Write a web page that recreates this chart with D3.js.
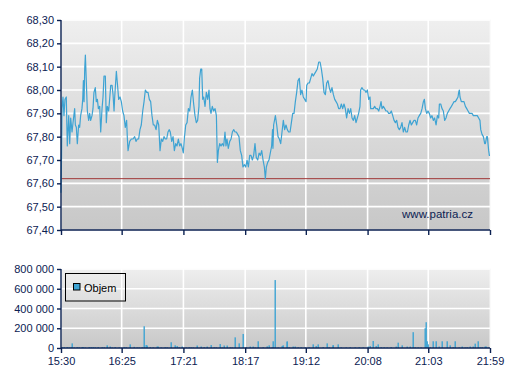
<!DOCTYPE html>
<html>
<head>
<meta charset="utf-8">
<script src="https://cdn.jsdelivr.net/npm/d3@7"></script>
<style>
  html, body { margin: 0; padding: 0; background: #ffffff; }
  svg { display: block; font-family: "Liberation Sans", Arial, sans-serif; }
</style>
</head>
<body>
<svg id="chart" width="507" height="380"></svg>
<script>
// ---------- DATA ----------
const timeLabels = ["15:30","16:25","17:21","18:17","19:12","20:08","21:03","21:59"];
const priceTicks = [67.4, 67.5, 67.6, 67.7, 67.8, 67.9, 68.0, 68.1, 68.2, 68.3];
const volumeTicks = [0, 200000, 400000, 600000, 800000];
const referencePrice = 67.62;
const watermark = "www.patria.cz";
const legendLabel = "Objem";

// minutes after 15:30
const priceTimes = [
  0,0.5,0.9,1.8,2.7,3.6,4.8,5.7,7.0,7.9,8.8,10.0,10.9,12.4,13.0,13.9,14.8,16.0,16.9,17.8,
  19.0,19.7,20.3,20.9,21.5,22.1,23.0,23.9,25.1,26.0,26.9,28.1,29.0,29.9,31.1,32.0,33.0,33.9,35.1,36.0,
  37.2,38.1,39.0,40.2,41.1,42.0,43.2,44.1,45.1,46.3,47.2,48.1,48.7,50.2,51.1,52.3,53.5,54.7,55.9,57.1,
  58.3,59.5,60.2,60.8,62.3,63.8,65.3,66.8,68.0,69.2,70.4,71.6,72.8,74.1,75.3,76.5,77.7,78.9,80.1,81.3,
  82.5,83.7,84.9,86.2,87.4,88.6,89.8,91.0,92.2,93.4,94.6,95.8,97.0,98.2,99.1,100.4,101.6,102.8,104.0,105.2,
  106.4,107.6,108.8,110.0,110.9,111.8,113.1,114.3,115.5,116.7,117.9,119.1,120.3,121.5,122.7,123.9,125.1,125.7,126.7,127.6,
  128.5,129.4,130.6,131.8,133.0,134.2,135.1,136.0,137.2,138.4,139.7,140.9,141.8,142.7,143.9,145.1,146.3,147.5,148.7,149.6,
  150.5,151.7,153.0,154.2,155.4,156.6,157.8,159.0,160.2,161.4,162.6,163.8,165.0,166.3,167.5,168.7,169.9,171.1,172.3,173.5,
  174.7,175.9,177.1,178.4,179.6,180.8,182.0,183.2,184.4,185.3,186.2,187.4,188.6,189.8,191.0,191.8,192.2,192.8,194.4,195.6,
  196.8,198.0,199.2,200.4,201.6,202.8,204.0,205.2,206.4,207.7,208.9,210.1,211.3,212.5,213.7,214.9,216.1,217.3,218.5,219.7,
  221.0,222.2,222.8,224.0,225.2,226.4,227.6,228.8,230.0,231.2,232.4,233.7,234.9,236.1,237.3,238.5,239.7,240.9,242.1,243.3,
  244.5,245.7,247.0,248.2,249.4,250.6,251.8,253.0,254.2,255.4,256.6,257.8,259.0,260.3,261.5,262.7,263.9,265.1,266.3,267.5,
  268.7,269.9,271.1,271.7,272.9,274.2,275.4,276.6,277.8,279.0,280.2,280.8,282.0,283.2,284.4,285.6,286.8,288.1,289.3,290.2,
  291.1,292.3,293.5,294.7,295.9,297.1,298.3,299.5,300.8,302.0,303.2,304.4,305.6,306.8,308.0,309.2,310.4,311.6,312.8,314.1,
  315.3,316.5,317.7,318.9,320.1,321.3,322.5,323.7,324.9,326.2,327.4,328.6,329.5,330.4,331.6,332.8,334.0,335.2,336.4,337.6,
  338.8,340.1,341.3,342.5,343.1,344.3,345.5,346.7,347.9,349.1,350.3,351.5,352.7,354.0,355.2,356.4,357.6,358.8,360.0,360.6,
  361.2,361.8,363.0,364.2,365.4,366.7,367.9,369.1,370.3,371.5,372.7,373.9,375.1,376.3,377.5,378.7,379.9,380.6,381.8,383.0,
  384.2,384.8,386.0,386.6,387.8,388.4,389
];
const priceValues = [
  67.56,67.72,67.92,67.97,67.89,67.96,67.97,67.76,67.89,67.77,67.88,67.82,67.86,67.92,67.85,67.84,67.77,67.85,67.84,67.89,
  67.92,67.96,68.04,67.95,68.09,68.15,68.03,67.91,67.87,67.90,67.87,67.89,67.92,67.99,68.01,67.95,67.96,67.92,67.93,67.82,
  67.92,67.97,68.06,68.06,67.86,67.93,67.91,67.96,68.02,68.02,67.98,67.91,67.97,68.08,68.03,67.96,67.97,67.95,67.91,67.89,
  67.84,67.87,67.79,67.74,67.78,67.79,67.79,67.80,67.78,67.79,67.79,67.83,67.85,67.91,67.95,68.00,67.99,67.99,67.96,67.95,
  67.89,67.85,67.85,67.83,67.87,67.85,67.74,67.79,67.78,67.80,67.79,67.79,67.82,67.83,67.82,67.78,67.80,67.74,67.77,67.76,
  67.79,67.76,67.77,67.75,67.73,67.79,67.85,67.86,67.92,67.91,67.97,68.00,67.94,67.89,67.86,67.87,67.93,68.05,68.09,68.09,
  67.96,67.97,67.93,67.99,67.96,68.00,67.92,67.90,67.93,67.91,67.92,67.89,67.69,67.74,67.77,67.76,67.77,67.76,67.82,67.76,
  67.79,67.75,67.78,67.79,67.82,67.83,67.82,67.82,67.81,67.80,67.74,67.72,67.67,67.68,67.67,67.70,67.67,67.72,67.72,67.70,
  67.72,67.77,67.71,67.70,67.73,67.72,67.74,67.70,67.67,67.62,67.67,67.69,67.70,67.73,67.76,67.83,67.75,67.85,67.89,67.85,
  67.80,67.79,67.77,67.82,67.87,67.83,67.85,67.83,67.82,67.82,67.86,67.90,67.90,67.95,67.99,68.04,68.05,67.98,68.00,67.97,
  67.96,67.95,68.02,68.03,68.03,68.05,68.07,68.06,68.07,68.08,68.09,68.12,68.12,68.09,68.05,67.99,67.98,68.03,68.04,68.01,
  67.99,68.01,67.98,67.96,67.95,67.94,67.92,67.92,67.94,67.92,67.94,67.92,67.88,67.92,67.90,67.92,67.88,67.87,67.89,67.86,
  67.88,67.90,67.93,68.00,68.01,68.00,68.00,67.99,68.00,67.96,67.97,67.92,67.92,67.92,67.93,67.92,67.92,67.91,67.93,67.95,
  67.92,67.93,67.92,67.91,67.91,67.90,67.90,67.91,67.89,67.87,67.86,67.87,67.84,67.83,67.84,67.86,67.82,67.84,67.82,67.82,
  67.85,67.87,67.85,67.86,67.87,67.87,67.85,67.88,67.89,67.90,67.92,67.95,67.96,67.92,67.90,67.91,67.90,67.88,67.89,67.87,
  67.88,67.85,67.89,67.88,67.94,67.94,67.92,67.91,67.87,67.88,67.90,67.91,67.92,67.93,67.94,67.95,67.95,67.96,67.97,67.99,
  68.00,67.97,67.95,67.95,67.95,67.93,67.92,67.91,67.90,67.90,67.90,67.89,67.89,67.89,67.89,67.88,67.87,67.83,67.81,67.80,
  67.77,67.77,67.80,67.80,67.74,67.72,67.72
];

// volume: minutes after 15:30 and traded volume
const volumeTimes = [
  5.1,10.3,14.2,18.7,20.2,25.7,29.3,33.8,36.9,42.0,44.4,49.0,62.6,66.5,75.3,76.8,77.7,86.8,88.3,99.7,
  103.4,104.9,110.0,123.0,127.0,132.1,136.0,144.2,148.1,150.2,158.0,161.7,165.3,171.4,174.4,179.0,186.5,188.9,192.6,194.4,
  200.7,201.6,204.7,205.3,210.7,212.2,228.8,231.0,233.4,237.9,241.5,246.4,247.0,251.5,278.7,280.2,282.6,285.7,287.8,303.8,
  305.9,309.5,314.1,316.5,319.5,329.8,330.7,331.6,333.1,337.7,340.1,343.1,345.8,349.8,352.8,357.6,363.4,370.9,373.3,375.7,
  378.5,384.5,385.4,
  1,3,7,9,12,16,22,27,31,39,46,53,57,59,69,71,73,81,83,91,
  94,96,107,113,116,118,120,130,139,141,146,153,155,168,176,183,191,197,207,215,
  218,221,225,243,254,258,262,267,270,274,290,293,296,299,321,324,326,335,355,361,
  366,368,380,382,387
];
const volumeValues = [
  10000,47000,10000,10000,9000,10000,9000,10000,9000,27000,15000,10000,37000,12000,220000,30000,25000,15000,15000,58000,
  27000,20000,15000,25000,15000,15000,30000,40000,25000,25000,108000,47000,142000,15000,15000,68000,17000,27000,68000,688000,
  20000,27000,60000,68000,15000,15000,37000,20000,37000,10000,47000,27000,27000,37000,15000,20000,71000,20000,37000,15000,
  54000,27000,15000,15000,160000,200000,261000,68000,37000,68000,68000,15000,68000,68000,27000,68000,15000,15000,15000,44000,
  68000,15000,15000,
  7000,8000,6000,9000,7000,8000,6000,9000,7000,8000,6000,7000,9000,8000,7000,6000,8000,9000,7000,6000,
  8000,7000,9000,6000,8000,7000,6000,9000,8000,7000,6000,8000,7000,9000,6000,8000,7000,6000,9000,8000,
  7000,6000,8000,9000,7000,6000,8000,7000,9000,6000,8000,7000,6000,9000,8000,7000,6000,8000,9000,7000,
  6000,8000,7000,9000,6000
];

// ---------- LAYOUT ----------
const svg = d3.select("#chart");
const L = 61, R = 490;
const pTop = 20, pBot = 230;
const vTop = 269, vBot = 348;
const navy = "#0b2152";
const lineColor = "#3ea3d3";

const toMin = s => { const [h, m] = s.split(":").map(Number); return (h * 60 + m) - (15 * 60 + 30); };
const tickMins = timeLabels.map(toMin);

const x = d3.scaleLinear().domain([0, toMin("21:59")]).range([L, R]);
const yP = d3.scaleLinear().domain([67.4, 68.3]).range([pBot, pTop]);
const yV = d3.scaleLinear().domain([0, 800000]).range([vBot, vTop]);

// gradients
const defs = svg.append("defs");
function grad(id, c1, c2) {
  const g = defs.append("linearGradient").attr("id", id).attr("x1", 0).attr("y1", 0).attr("x2", 0).attr("y2", 1);
  g.append("stop").attr("offset", "0%").attr("stop-color", c1);
  g.append("stop").attr("offset", "100%").attr("stop-color", c2);
}
grad("gP", "#efefef", "#c7c7c7");
grad("gV", "#eeeeee", "#c8c8c8");

// ---------- PRICE PANEL ----------
svg.append("rect").attr("x", L).attr("y", pTop).attr("width", R - L).attr("height", pBot - pTop)
  .attr("fill", "url(#gP)").attr("stroke", "#f6f6f6").attr("stroke-width", 1);

const gridP = svg.append("g");
gridP.selectAll("line.h").data(priceTicks.slice(1)).join("line")
  .attr("x1", L).attr("x2", R).attr("y1", d => yP(d)).attr("y2", d => yP(d))
  .attr("stroke", "#ffffff").attr("stroke-width", 1.6);
gridP.selectAll("line.v").data(tickMins.slice(1, -1)).join("line")
  .attr("x1", d => x(d)).attr("x2", d => x(d)).attr("y1", pTop).attr("y2", pBot)
  .attr("stroke", "#ffffff").attr("stroke-width", 1.6);

// reference line
svg.append("line").attr("x1", L).attr("x2", R)
  .attr("y1", yP(referencePrice)).attr("y2", yP(referencePrice))
  .attr("stroke", "#a03838").attr("stroke-width", 1);

// watermark
svg.append("text").attr("x", 473).attr("y", 217.5).attr("text-anchor", "end")
  .attr("font-size", "11.5px").attr("fill", navy).text(watermark);

// price line
const priceData = priceTimes.map((t, i) => ({ t, v: priceValues[i] }));
svg.append("path").datum(priceData)
  .attr("fill", "none").attr("stroke", lineColor).attr("stroke-width", 1.2)
  .attr("stroke-linejoin", "round")
  .attr("d", d3.line().x(d => x(d.t)).y(d => yP(d.v)));

// axes
const fmtP = d => d3.format(".2f")(d).replace(".", ",");
const axP = svg.append("g").attr("transform", `translate(${L},0)`)
  .call(d3.axisLeft(yP).tickValues(priceTicks).tickFormat(fmtP).tickSize(4).tickPadding(3));
const axPx = svg.append("g").attr("transform", `translate(0,${pBot})`)
  .call(d3.axisBottom(x).tickValues(tickMins).tickFormat("").tickSize(5));

// ---------- VOLUME PANEL ----------
svg.append("rect").attr("x", L).attr("y", vTop).attr("width", R - L).attr("height", vBot - vTop)
  .attr("fill", "url(#gV)").attr("stroke", "#f6f6f6").attr("stroke-width", 1);
const gridV = svg.append("g");
gridV.selectAll("line.h").data(volumeTicks.slice(1)).join("line")
  .attr("x1", L).attr("x2", R).attr("y1", d => yV(d)).attr("y2", d => yV(d))
  .attr("stroke", "#ffffff").attr("stroke-width", 1.6);
gridV.selectAll("line.v").data(tickMins.slice(1, -1)).join("line")
  .attr("x1", d => x(d)).attr("x2", d => x(d)).attr("y1", vTop).attr("y2", vBot)
  .attr("stroke", "#ffffff").attr("stroke-width", 1.6);

const volData = volumeTimes.map((t, i) => ({ t, v: volumeValues[i] }));
svg.append("g").selectAll("rect").data(volData).join("rect")
  .attr("x", d => Math.round(x(d.t)) - 0.5).attr("width", 1.4)
  .attr("y", d => yV(d.v)).attr("height", d => vBot - yV(d.v))
  .attr("fill", lineColor);

const fmtV = d => d3.format(",")(d).replace(/,/g, " ");
const axV = svg.append("g").attr("transform", `translate(${L},0)`)
  .call(d3.axisLeft(yV).tickValues(volumeTicks).tickFormat(fmtV).tickSize(4).tickPadding(3));
const axVx = svg.append("g").attr("transform", `translate(0,${vBot})`)
  .call(d3.axisBottom(x).tickValues(tickMins).tickFormat((d, i) => timeLabels[i]).tickSize(5).tickPadding(4));

[axP, axPx, axV, axVx].forEach(a => {
  a.select(".domain").attr("stroke", navy).attr("stroke-width", 1.4);
  a.selectAll(".tick line").attr("stroke", navy).attr("stroke-width", 1.4);
  a.selectAll("text").attr("fill", navy).attr("font-size", "11px")
    .attr("font-family", "'Liberation Sans', Arial, sans-serif");
});
axP.select(".domain").attr("d", `M0,${pTop}V${pBot}`);
axV.select(".domain").attr("d", `M0,${vTop}V${vBot}`);
axPx.select(".domain").attr("d", `M${L},0H${R}`);
axVx.select(".domain").attr("d", `M${L},0H${R}`);

// ---------- LEGEND ----------
const lg = svg.append("g");
lg.append("rect").attr("x", 65.5).attr("y", 273.5).attr("width", 60).attr("height", 27.5)
  .attr("fill", "none").attr("stroke", "#000").attr("stroke-width", 1);
lg.append("rect").attr("x", 73.5).attr("y", 283.5).attr("width", 6.5).attr("height", 6.5)
  .attr("fill", lineColor).attr("stroke", "#000").attr("stroke-width", 1);
lg.append("text").attr("x", 84).attr("y", 291.5).attr("font-size", "11px").attr("fill", "#000")
  .text(legendLabel);
</script>
</body>
</html>
